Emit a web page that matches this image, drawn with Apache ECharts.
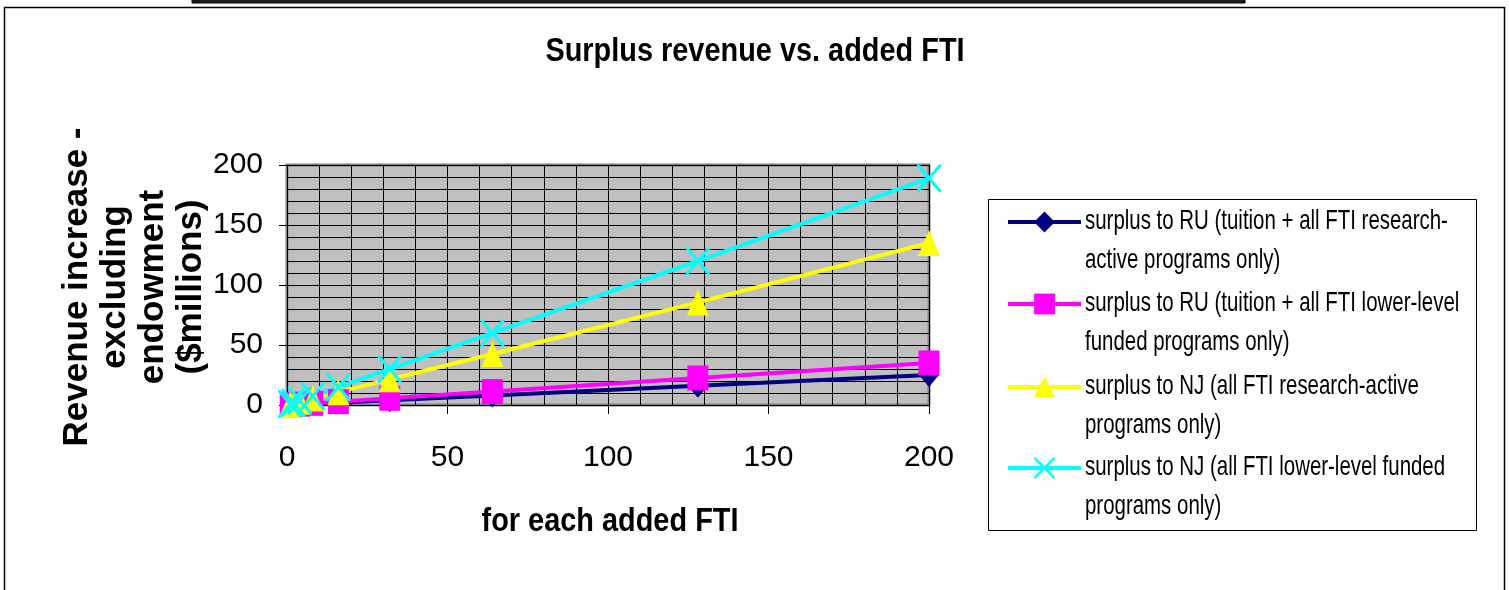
<!DOCTYPE html>
<html>
<head>
<meta charset="utf-8">
<script src="https://cdn.jsdelivr.net/npm/echarts@6/dist/echarts.min.js"></script>
<style>
  html, body { margin: 0; padding: 0; background: #fff; }
  #chart { width: 1509px; height: 590px; }
</style>
</head>
<body>
<div id="chart"></div>
<script>
// added FTI (x values)
const fti = [1, 2, 4, 8, 16, 32, 64, 128, 200];

// revenue increase, $millions
const ruResearch = [0.1, 0.25, 0.5, 1, 2, 4, 8, 16, 25];
const ruLower = [0.2, 0.4, 0.7, 1.4, 2.8, 5.6, 11.2, 22.5, 35];
const njResearch = [0.7, 1.3, 2.7, 5.4, 10.7, 21.4, 42.5, 85.5, 135];
const njLower = [0.9, 1.9, 3.8, 7.5, 15, 30, 60, 120, 189];

const xTicks = [0, 50, 100, 150, 200];
const yTicks = [0, 50, 100, 150, 200];

const legendLines = [
    ['surplus to RU (tuition + all FTI research-', 'active programs only)'],
    ['surplus to RU (tuition + all FTI lower-level', 'funded programs only)'],
    ['surplus to NJ (all FTI research-active', 'programs only)'],
    ['surplus to NJ (all FTI lower-level funded', 'programs only)']
];
const seriesNames = legendLines.map(l => l.join(' '));

const colors = ['#000080', '#FF00FF', '#FFFF00', '#00FFFF'];
const symbols = [
    'diamond',
    'rect',
    'triangle',
    'path://M0,0 L2,0 L12,10 L22,0 L24,0 L24,2 L14,12 L24,22 L24,24 L22,24 L12,14 L2,24 L0,24 L0,22 L10,12 L0,2 Z'
];
const symbolSizes = [[20, 24], [21, 25], [22, 26], [24, 28]];
const values = [ruResearch, ruLower, njResearch, njLower];

const chart = echarts.init(document.getElementById('chart'));

const FONT = '"Liberation Sans", Arial, sans-serif';

let series = values.map((vals, i) => ({
    name: seriesNames[i],
    type: 'line',
    data: fti.map((x, j) => [x, vals[j]]),
    symbol: symbols[i],
    symbolSize: symbolSizes[i],
    showAllSymbol: true,
    clip: false,
    color: colors[i],
    lineStyle: {width: 4, color: colors[i]},
    itemStyle: {color: colors[i]},
    emphasis: {disabled: true},
    animation: false
}));

// legend: one component per entry so the icon sits on the first text line
const legendTops = [222, 304, 387, 468];
let legends = seriesNames.map((n, i) => ({
    data: [n],
    left: 1006,
    top: legendTops[i] - 13,
    padding: 0,
    itemWidth: 73,
    itemHeight: 26,
    lineStyle: {width: 4},
    formatter: () => '',
    selectedMode: false
}));

let legendTexts = legendLines.map((lines, i) => ({
    type: 'text',
    x: 1085,
    y: legendTops[i] - 20,
    scaleX: 0.73,
    style: {
        text: lines.join('\n'),
        font: '28px ' + FONT,
        lineHeight: 39,
        fill: '#000',
        align: 'left',
        verticalAlign: 'top'
    }
}));

let option = {
    animation: false,
    backgroundColor: '#fff',
    grid: {
        left: 287,
        top: 165,
        width: 642,
        height: 240,
        show: true,
        backgroundColor: '#C0C0C0',
        borderColor: '#808080',
        borderWidth: 3
    },
    legend: legends,
    xAxis: {
        type: 'value',
        min: xTicks[0],
        max: xTicks[xTicks.length - 1],
        interval: 50,
        axisLine: {show: false},
        axisTick: {show: true, length: 9, lineStyle: {color: '#000', width: 1}},
        axisLabel: {margin: 38, fontSize: 30, color: '#000', fontFamily: FONT},
        splitLine: {show: true, lineStyle: {color: '#000', width: 1}},
        minorTick: {show: false, splitNumber: 5},
        minorSplitLine: {show: true, lineStyle: {color: '#000', width: 1}}
    },
    yAxis: {
        type: 'value',
        min: yTicks[0],
        max: yTicks[yTicks.length - 1],
        interval: 50,
        axisLine: {show: false},
        axisTick: {show: true, length: 8, lineStyle: {color: '#000', width: 1}},
        axisLabel: {margin: 24, fontSize: 30, color: '#000', fontFamily: FONT},
        splitLine: {show: true, lineStyle: {color: '#000', width: 1}},
        minorTick: {show: false, splitNumber: 5},
        minorSplitLine: {show: true, lineStyle: {color: '#000', width: 1}}
    },
    series: series,
    graphic: [
        // outer chart frame
        {type: 'rect', shape: {x: 4.5, y: 7.5, width: 1500, height: 620},
            style: {fill: null, stroke: '#000', lineWidth: 1.5}, z: -10},
        // bar left over from the item above
        {type: 'rect', shape: {x: 192, y: -10, width: 1053, height: 13},
            style: {fill: '#1a1a1a', stroke: '#000', lineWidth: 1}},
        // title
        {type: 'text', x: 755, y: 52, scaleX: 0.85,
            style: {text: 'Surplus revenue vs. added FTI', font: 'bold 34px ' + FONT,
                fill: '#000', align: 'center', verticalAlign: 'middle'}},
        // y axis title
        {type: 'text', x: 134, y: 287, rotation: Math.PI / 2,
            style: {text: 'Revenue increase -\nexcluding\nendowment\n($millions)',
                font: 'bold 35px ' + FONT, lineHeight: 38, fill: '#000',
                align: 'center', verticalAlign: 'middle'}},
        // x axis title
        {type: 'text', x: 610, y: 522, scaleX: 0.85,
            style: {text: 'for each added FTI', font: 'bold 34px ' + FONT,
                fill: '#000', align: 'center', verticalAlign: 'middle'}},
        // legend box
        {type: 'rect', shape: {x: 988.5, y: 199.5, width: 488, height: 331},
            style: {fill: '#fff', stroke: '#000', lineWidth: 1}, z: -5}
    ].concat(legendTexts)
};

chart.setOption(option);
</script>
</body>
</html>
